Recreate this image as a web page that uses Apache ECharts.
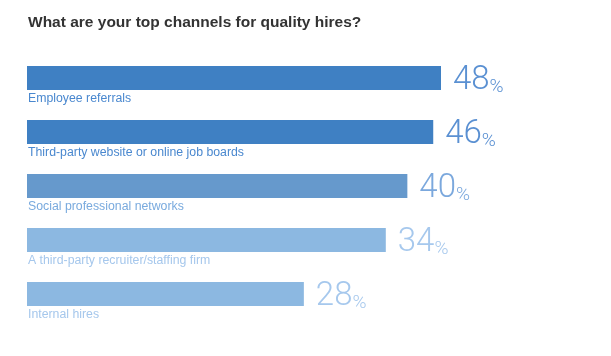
<!DOCTYPE html>
<html><head><meta charset="utf-8">
<script src="https://cdn.jsdelivr.net/npm/echarts@6/dist/echarts.min.js"></script>
<style>html,body{margin:0;padding:0;background:#fff}#c{width:611px;height:356px}</style>
</head><body><div id="c"></div>
<script>
const titleText = 'What are your top channels for quality hires?';
const categories = ['Employee referrals','Third-party website or online job boards','Social professional networks','A third-party recruiter/staffing firm','Internal hires'];
const percents = [48, 46, 40, 34, 28];
// drawn bar lengths (same axis units)
const barLengths = [48, 47.1, 44.1, 41.6, 32.1];
const barColors = ['#3f80c3','#3f80c3','#6699cc','#8cb8e1','#8cb8e1'];
const catColors = ['#4a88cf','#4a88cf','#79aade','#a5c7ec','#a5c7ec'];
const pctColors = ['#5a90d2','#5a90d2','#7ba8dd','#a6c8ed','#a6c8ed'];

const chart = echarts.init(document.getElementById('c'));
chart.setOption({
  animation:false,
  title:{text:titleText,left:28,top:15,padding:0,textStyle:{fontFamily:'Liberation Sans',fontSize:15.5,fontWeight:'bold',color:'#333',lineHeight:16}},
  grid:{left:27,top:51,width:431.25,height:270},
  xAxis:{type:'value',min:0,max:50,show:false},
  yAxis:{type:'category',inverse:true,data:categories,show:false},
  series:[{
    type:'bar',barWidth:24,
    data:barLengths.map((v,i)=>({value:v,itemStyle:{color:barColors[i]},
      label:{show:true,position:'right',distance:12,offset:[0,4],
        formatter:()=>'{n|'+percents[i]+'}{p|%}',
        rich:{n:{fontFamily:'Roboto',fontWeight:300,fontSize:33,color:pctColors[i],verticalAlign:'bottom',lineHeight:30},
              p:{fontFamily:'Roboto',fontWeight:300,fontSize:19,color:pctColors[i],verticalAlign:'bottom',lineHeight:23}}}}))
  },{
    type:'bar',barWidth:24,barGap:'-100%',silent:true,
    data:barLengths.map((v,i)=>({value:v,itemStyle:{color:'rgba(0,0,0,0)'},
      label:{show:true,position:[1,33],verticalAlign:'middle',align:'left',
        formatter:categories[i],fontFamily:'Liberation Sans',fontSize:12.3,color:catColors[i]}}))
  }]
});
</script></body></html>
